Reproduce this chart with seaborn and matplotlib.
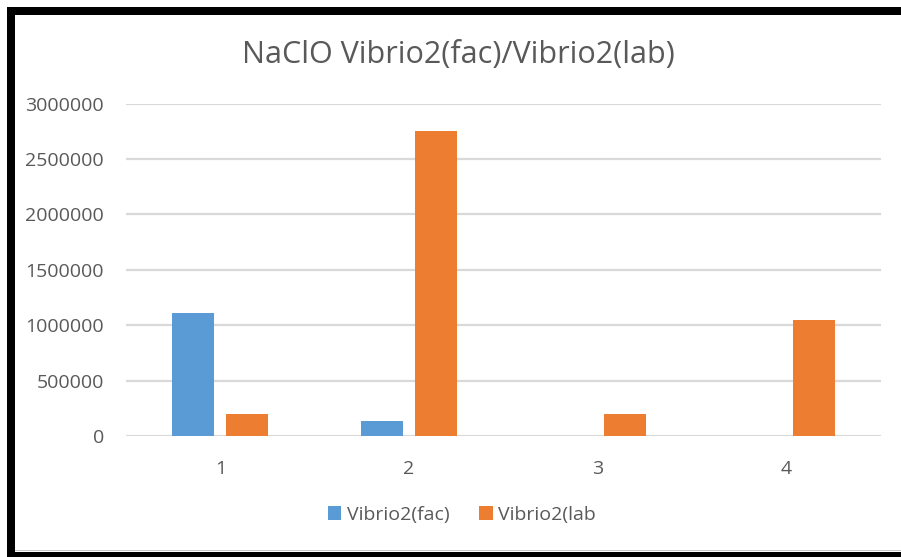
import matplotlib
matplotlib.use("Agg")
import matplotlib.pyplot as plt
from matplotlib.patches import Rectangle, Patch
import pandas as pd
import seaborn as sns

# Chart data
categories = ["1", "2", "3", "4"]
series_names = ["Vibrio2(fac)", "Vibrio2(lab"]
fac_values = [1110000, 135000, 0, 0]
lab_values = [200000, 2750000, 200000, 1050000]
y_ticks = [0, 500000, 1000000, 1500000, 2000000, 2500000, 3000000]
title_text = "NaClO Vibrio2(fac)/Vibrio2(lab)"

colors = ["#5B9BD5", "#ED7D31"]
text_color = "#595959"
grid_color = "#D9D9D9"

df = pd.DataFrame({
    "category": categories * 2,
    "series": [series_names[0]] * len(categories) + [series_names[1]] * len(categories),
    "value": fac_values + lab_values,
})

sns.set_theme(style="white")
plt.rcParams["font.family"] = ["Open Sans", "DejaVu Sans"]

W, H = 901, 557
fig = plt.figure(figsize=(W / 100, H / 100), dpi=100)
fig.patch.set_facecolor("white")

left, right, bottom_px, top_px = 126, 881, 436, 103.7
ax = fig.add_axes([left / W, (H - bottom_px) / H, (right - left) / W, (bottom_px - top_px) / H])

sns.barplot(data=df, x="category", y="value", hue="series", order=categories,
            hue_order=series_names, palette=colors, width=0.572, gap=0.22,
            linewidth=0, saturation=1, ax=ax, legend=False)

ax.set_ylim(0, 3000000)
ax.set_xlim(-0.5, len(categories) - 0.5)
ax.set_yticks(y_ticks)
ax.set_yticklabels([str(t) for t in y_ticks])
ax.set_xlabel("")
ax.set_ylabel("")
for s in ax.spines.values():
    s.set_visible(False)
ax.yaxis.grid(True, color=grid_color, linewidth=1.6)
ax.set_axisbelow(True)
ax.tick_params(axis="both", length=0, colors=text_color, labelsize=14)
ax.tick_params(axis="y", pad=16)
ax.tick_params(axis="x", pad=17)

fig.text(458.5 / W, 1 - 55 / H, title_text, ha="center", va="center",
         fontsize=22, color=text_color)

handles = [Patch(facecolor=c, edgecolor="none") for c in colors]
fig.legend(handles, series_names, loc="center", bbox_to_anchor=(462 / W, 1 - 515 / H),
           ncol=2, frameon=False, fontsize=14, labelcolor=text_color,
           handlelength=0.7, handleheight=0.7, handletextpad=0.3, columnspacing=1.5)

# Black frame on the top, left and bottom edges
frame = [
    (7, 7, W - 7, 8),      # top
    (7, 7, 8, H - 7),      # left
    (7, 552, W - 7, 5),    # bottom
]
for x, y, w, h in frame:
    fig.patches.append(Rectangle((x / W, 1 - (y + h) / H), w / W, h / H,
                                 transform=fig.transFigure, facecolor="black",
                                 edgecolor="none", zorder=10))
fig.patches.append(Rectangle((15 / W, 1 - 551 / H), (W - 15) / W, 1.5 / H,
                             transform=fig.transFigure, facecolor="#C8C8C8",
                             edgecolor="none", zorder=9))

fig.savefig("out.png", dpi=100, facecolor="white")
